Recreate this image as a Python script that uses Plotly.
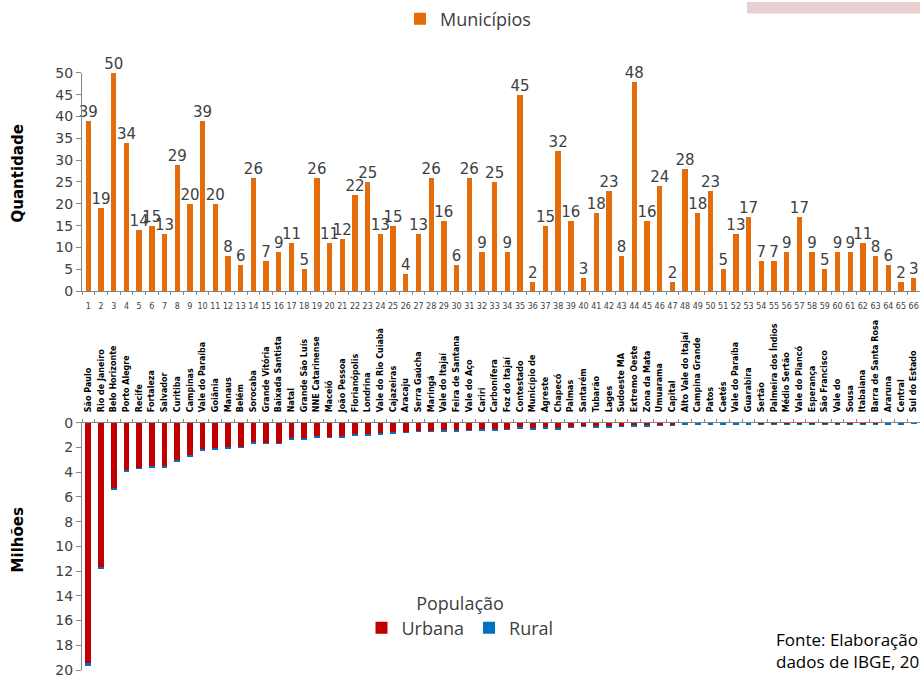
import plotly.graph_objects as go

# ---------------- data ----------------
indices = list(range(1, 67))
municipios = [39, 19, 50, 34, 14, 15, 13, 29, 20, 39,
              20, 8, 6, 26, 7, 9, 11, 5, 26, 11,
              12, 22, 25, 13, 15, 4, 13, 26, 16, 6,
              26, 9, 25, 9, 45, 2, 15, 32, 16, 3,
              18, 23, 8, 48, 16, 24, 2, 28, 18, 23,
              5, 13, 17, 7, 7, 9, 17, 9, 5, 9,
              9, 11, 8, 6, 2, 3]
index_labels = [str(i) for i in indices]

regioes = ["São Paulo", "Rio de Janeiro", "Belo Horizonte", "Porto Alegre", "Recife",
           "Fortaleza", "Salvador", "Curitiba", "Campinas", "Vale do Paraíba",
           "Goiânia", "Manaus", "Belém", "Sorocaba", "Grande Vitória",
           "Baixada Santista", "Natal", "Grande São Luís", "NNE Catarinense", "Maceió",
           "João Pessoa", "Florianópolis", "Londrina", "Vale do Rio Cuiabá", "Cajazeiras",
           "Aracaju", "Serra Gaúcha", "Maringá", "Vale do Itajaí", "Feira de Santana",
           "Vale do Aço", "Cariri", "Carbonífera", "Foz do Itajaí", "Contestado",
           "Município de", "Agreste", "Chapecó", "Palmas", "Santarém",
           "Tubarão", "Lages", "Sudoeste MA", "Extremo Oeste", "Zona da Mata",
           "Umuarama", "Capital", "Alto Vale do Itajaí", "Campina Grande", "Patos",
           "Caetés", "Vale do Paraíba", "Guarabira", "Sertão", "Palmeira dos Índios",
           "Médio Sertão", "Vale do Piancó", "Esperança", "São Francisco", "Vale do",
           "Sousa", "Itabaiana", "Barra de Santa Rosa", "Araruna", "Central",
           "Sul do Estado"]

urbana = [19.46, 11.70, 5.27, 3.84, 3.64, 3.53, 3.55, 3.05, 2.66, 2.15,
          2.09, 1.96, 1.97, 1.58, 1.63, 1.65, 1.25, 1.22, 1.10, 1.14,
          1.12, 0.95, 0.93, 0.84, 0.80, 0.77, 0.66, 0.65, 0.64, 0.62,
          0.60, 0.54, 0.54, 0.50, 0.40, 0.48, 0.36, 0.46, 0.33, 0.25,
          0.30, 0.31, 0.27, 0.24, 0.20, 0.17, 0.20, 0.08, 0.08, 0.08,
          0.08, 0.08, 0.08, 0.09, 0.09, 0.09, 0.09, 0.09, 0.09, 0.09,
          0.09, 0.09, 0.09, 0.04, 0.04, 0.03]
rural = [0.22, 0.08, 0.14, 0.10, 0.08, 0.08, 0.06, 0.16, 0.07, 0.10,
         0.05, 0.10, 0.04, 0.08, 0.03, 0.01, 0.09, 0.09, 0.09, 0.04,
         0.06, 0.04, 0.06, 0.07, 0.06, 0.03, 0.06, 0.05, 0.11, 0.13,
         0.04, 0.08, 0.10, 0.04, 0.08, 0.06, 0.18, 0.08, 0.04, 0.07,
         0.07, 0.06, 0.05, 0.08, 0.07, 0.04, 0.02, 0.12, 0.12, 0.12,
         0.12, 0.12, 0.12, 0.03, 0.03, 0.03, 0.03, 0.03, 0.03, 0.03,
         0.03, 0.03, 0.03, 0.06, 0.06, 0.02]

qtd_ticks = list(range(0, 51, 5))
mil_ticks = list(range(0, 21, 2))

# ---------------- figure ----------------
W, H = 920, 678
AX = "#868686"
TXT = "#404040"
FONT = "DejaVu Sans"


def px_x(p):
    return p / W


def px_y(p):
    return 1 - p / H


boundaries = [i + 0.5 for i in range(0, 67)]

fig = go.Figure()

fig.add_trace(go.Bar(
    x=indices, y=municipios, name="Municípios",
    marker=dict(color="#E46C0A", line=dict(width=0)), width=0.42,
    text=[str(v) for v in municipios], textposition="outside",
    textfont=dict(family=FONT, size=15, color=TXT),
    constraintext="none", cliponaxis=False,
    xaxis="x", yaxis="y", legend="legend",
))

fig.add_trace(go.Bar(
    x=indices, y=urbana, name="Urbana",
    marker=dict(color="#C00000", line=dict(width=0)), width=0.45,
    xaxis="x2", yaxis="y2", legend="legend2",
))
fig.add_trace(go.Bar(
    x=indices, y=rural, name="Rural",
    marker=dict(color="#0070C0", line=dict(width=0)), width=0.45,
    xaxis="x2", yaxis="y2", legend="legend2",
))

fig.update_layout(
    width=W, height=H,
    margin=dict(l=0, r=0, t=0, b=0),
    paper_bgcolor="white", plot_bgcolor="white",
    barmode="stack",
    font=dict(family=FONT, color=TXT),
    xaxis=dict(
        domain=[px_x(82), 1.0], range=[0.5, 66.5], anchor="y",
        tickvals=indices, ticktext=index_labels,
        tickfont=dict(family=FONT, size=8, color=TXT),
        ticks="", ticklabelstandoff=7, ticklabeloverflow="allow",
        showline=True, linecolor=AX, linewidth=1,
        showgrid=False, zeroline=False, automargin=False,
        minor=dict(tickvals=boundaries, ticks="outside", ticklen=3, tickcolor=AX),
    ),
    yaxis=dict(
        domain=[px_y(290), px_y(71)], range=[0, 50], anchor="x",
        tickvals=qtd_ticks, ticks="outside", ticklen=5, tickcolor=AX,
        tickfont=dict(family=FONT, size=14, color=TXT),
        showline=True, linecolor=AX, linewidth=1,
        showgrid=False, zeroline=False, automargin=False,
    ),
    xaxis2=dict(
        domain=[px_x(82), 1.0], range=[0.5, 66.5], anchor="y2", side="top",
        tickvals=indices, ticktext=regioes, tickangle=-90,
        tickfont=dict(family=FONT, size=8, color="#000000", weight="bold"),
        ticks="", ticklabelstandoff=8, ticklabeloverflow="allow",
        showline=True, linecolor=AX, linewidth=1,
        showgrid=False, zeroline=False, automargin=False,
        minor=dict(tickvals=boundaries, ticks="outside", ticklen=3, tickcolor=AX),
    ),
    yaxis2=dict(
        domain=[px_y(670), px_y(422)], range=[20, 0], anchor="x2",
        tickvals=mil_ticks, ticks="outside", ticklen=5, tickcolor=AX,
        tickfont=dict(family=FONT, size=14, color=TXT),
        ticklabeloverflow="allow",
        showline=True, linecolor=AX, linewidth=1,
        showgrid=False, zeroline=False, automargin=False,
    ),
    legend=dict(
        x=px_x(400), y=px_y(17), xanchor="left", yanchor="middle",
        orientation="h", bgcolor="rgba(0,0,0,0)",
        font=dict(family="Open Sans", size=18, color=TXT),
        itemwidth=30, tracegroupgap=0,
    ),
    legend2=dict(
        x=px_x(460), y=px_y(586), xanchor="center", yanchor="top",
        orientation="h", bgcolor="rgba(0,0,0,0)",
        title=dict(text="População", side="top center",
                   font=dict(family="Open Sans", size=18, color=TXT)),
        font=dict(family="Open Sans", size=18, color=TXT),
        itemwidth=30, traceorder="normal",
    ),
    showlegend=True,
)

# axis titles
fig.add_annotation(text="<b>Quantidade</b>", x=px_x(18), y=px_y(172),
                   xref="paper", yref="paper", xanchor="center", yanchor="middle",
                   textangle=-90, showarrow=False,
                   font=dict(family=FONT, size=15, color="#000000"))
fig.add_annotation(text="<b>Milhões</b>", x=px_x(18), y=px_y(540),
                   xref="paper", yref="paper", xanchor="center", yanchor="middle",
                   textangle=-90, showarrow=False,
                   font=dict(family=FONT, size=15, color="#000000"))

# source note (cut by the right edge as in the original)
fig.add_annotation(text="Fonte: Elaboração própria com base em<br>dados de IBGE, 2010",
                   x=px_x(774), y=px_y(626), xref="paper", yref="paper",
                   xanchor="left", yanchor="top", align="left", showarrow=False,
                   font=dict(family="Open Sans", size=17, color="#000000"))

# pink box at top right (cropped in the original)
fig.add_shape(type="rect", xref="paper", yref="paper",
              x0=px_x(747), x1=1.0, y0=px_y(11.5), y1=1.0,
              fillcolor="#E8CFD0", line=dict(width=0), layer="above")

fig.write_html("out.html",
               config={"displayModeBar": False},
               post_script="document.body.style.margin='0px';document.body.style.overflow='hidden';")
